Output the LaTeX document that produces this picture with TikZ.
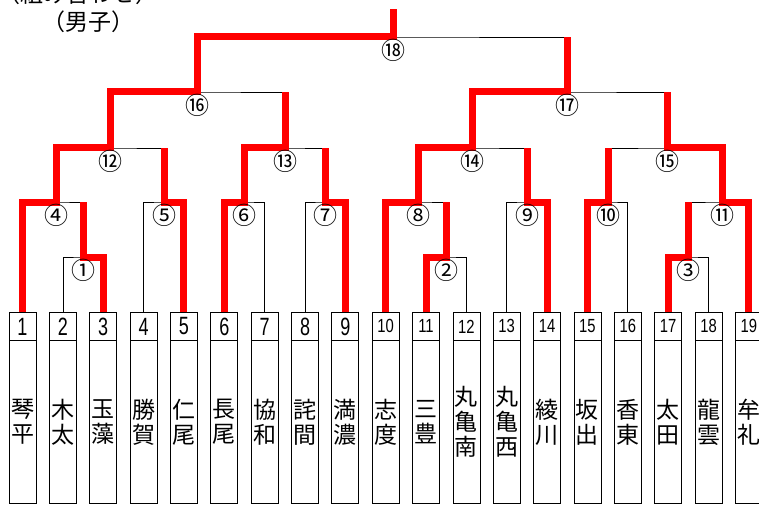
\documentclass[tikz,border=0pt]{standalone}
\usepackage{graphicx}
\usepackage{fontspec}
\setmainfont{Noto Sans CJK JP}
\newfontfamily\numfont{Liberation Sans}
\newcommand\bnum[1]{\scalebox{0.72}[1]{\fontsize{25}{25}\selectfont\numfont #1}}
\newcommand\snum[1]{\scalebox{0.78}[1]{\fontsize{19}{19}\selectfont\numfont #1}}
\tikzset{
  bk/.style={draw=black, line width=0.8pt},
  win/.style={draw=red, line width=7pt, line join=miter},
  numbox/.style={draw=black, line width=0.8pt, minimum width=27pt, minimum height=28pt, inner sep=0pt, anchor=north},
  namebox/.style={draw=black, line width=0.8pt, minimum width=27pt, minimum height=163pt, inner sep=0pt, anchor=north, align=center, font=\fontsize{23}{25}\selectfont},
  rnd/.style={inner sep=0pt, font=\fontsize{24}{24}\selectfont},
  ttl/.style={inner sep=0pt, font=\fontsize{23}{23}\selectfont},
}
\newcommand\teamnode[4]{%
  \node[numbox] (n#1) at (#2,312) {#3};
  \node[namebox] (s#1) at (#2,340) {#4};
}
\begin{document}
\begin{tikzpicture}[x=1pt,y=-1pt]
\useasboundingbox (0,0) rectangle (759,505);
% title
\node[ttl] (title1) at (78,-6) {（組み合わせ）};
\node[ttl] (title2) at (88,22) {（男子）};
% teams
\teamnode{1}{22.5}{\bnum{1}}{琴\\平}
\teamnode{2}{62.9}{\bnum{2}}{木\\太}
\teamnode{3}{103.2}{\bnum{3}}{玉\\藻}
\teamnode{4}{143.6}{\bnum{4}}{勝\\賀}
\teamnode{5}{183.9}{\bnum{5}}{仁\\尾}
\teamnode{6}{224.3}{\bnum{6}}{長\\尾}
\teamnode{7}{264.6}{\bnum{7}}{協\\和}
\teamnode{8}{305.0}{\bnum{8}}{詫\\間}
\teamnode{9}{345.3}{\bnum{9}}{満\\濃}
\teamnode{10}{385.7}{\snum{10}}{志\\度}
\teamnode{11}{426.0}{\snum{11}}{三\\豊}
\teamnode{12}{466.4}{\snum{12}}{丸\\亀\\南}
\teamnode{13}{506.7}{\snum{13}}{丸\\亀\\西}
\teamnode{14}{547.1}{\snum{14}}{綾\\川}
\teamnode{15}{587.4}{\snum{15}}{坂\\出}
\teamnode{16}{627.8}{\snum{16}}{香\\東}
\teamnode{17}{668.1}{\snum{17}}{太\\田}
\teamnode{18}{708.5}{\snum{18}}{龍\\雲}
\teamnode{19}{748.8}{\snum{19}}{牟\\礼}
% match points
\coordinate (m1) at (83,257);
\coordinate (m2) at (446,257);
\coordinate (m3) at (688,257);
\coordinate (m4) at (56,202);
\coordinate (m5) at (164,202);
\coordinate (m6) at (244,202);
\coordinate (m7) at (325,202);
\coordinate (m8) at (418,202);
\coordinate (m9) at (527,202);
\coordinate (m10) at (608,202);
\coordinate (m11) at (722,202);
\coordinate (m12) at (110,148);
\coordinate (m13) at (285,148);
\coordinate (m14) at (472,148);
\coordinate (m15) at (667,148);
\coordinate (m16) at (197,92);
\coordinate (m17) at (567,92);
\coordinate (m18) at (393,37);
\coordinate (top) at (393,9);
% black brackets
\draw[bk] (n2.north) |- (m1) -| (n3.north);
\draw[bk] (n11.north) |- (m2) -| (n12.north);
\draw[bk] (n17.north) |- (m3) -| (n18.north);
\draw[bk] (n1.north) |- (m4) -| (m1);
\draw[bk] (n4.north) |- (m5) -| (n5.north);
\draw[bk] (n6.north) |- (m6) -| (n7.north);
\draw[bk] (n8.north) |- (m7) -| (n9.north);
\draw[bk] (n10.north) |- (m8) -| (m2);
\draw[bk] (n13.north) |- (m9) -| (n14.north);
\draw[bk] (n15.north) |- (m10) -| (n16.north);
\draw[bk] (m3) |- (m11) -| (n19.north);
\draw[bk] (m4) |- (m12) -| (m5);
\draw[bk] (m6) |- (m13) -| (m7);
\draw[bk] (m8) |- (m14) -| (m9);
\draw[bk] (m10) |- (m15) -| (m11);
\draw[bk] (m12) |- (m16) -| (m13);
\draw[bk] (m14) |- (m17) -| (m15);
\draw[bk] (m16) |- (m18) -| (m17);
% winners
\draw[win] (n1.north) |- (m4) |- (m12) |- (m16) |- (m18) -- (top);
\draw[win] (n3.north) |- (m1) -- (m1 |- m4);
\draw[win] (n5.north) |- (m5) -- (m5 |- m12);
\draw[win] (n6.north) |- (m6) |- (m13) -- (m13 |- m16);
\draw[win] (n9.north) |- (m7) -- (m7 |- m13);
\draw[win] (n10.north) |- (m8) |- (m14) |- (m17) -- (m17 |- m18);
\draw[win] (n11.north) |- (m2) -- (m2 |- m8);
\draw[win] (n14.north) |- (m9) -- (m9 |- m14);
\draw[win] (n15.north) |- (m10) -- (m10 |- m15);
\draw[win] (n17.north) |- (m3) -- (m3 |- m11);
\draw[win] (n19.north) |- (m11) |- (m15) -- (m15 |- m17);
% round labels
\node[rnd] (c1) at ([yshift=-13pt]m1) {①};
\node[rnd] (c2) at ([yshift=-13pt]m2) {②};
\node[rnd] (c3) at ([yshift=-13pt]m3) {③};
\node[rnd] (c4) at ([yshift=-13pt]m4) {④};
\node[rnd] (c5) at ([yshift=-13pt]m5) {⑤};
\node[rnd] (c6) at ([yshift=-13pt]m6) {⑥};
\node[rnd] (c7) at ([yshift=-13pt]m7) {⑦};
\node[rnd] (c8) at ([yshift=-13pt]m8) {⑧};
\node[rnd] (c9) at ([yshift=-13pt]m9) {⑨};
\node[rnd] (c10) at ([yshift=-13pt]m10) {⑩};
\node[rnd] (c11) at ([yshift=-13pt]m11) {⑪};
\node[rnd] (c12) at ([yshift=-13pt]m12) {⑫};
\node[rnd] (c13) at ([yshift=-13pt]m13) {⑬};
\node[rnd] (c14) at ([yshift=-13pt]m14) {⑭};
\node[rnd] (c15) at ([yshift=-13pt]m15) {⑮};
\node[rnd] (c16) at ([yshift=-13pt]m16) {⑯};
\node[rnd] (c17) at ([yshift=-13pt]m17) {⑰};
\node[rnd] (c18) at ([yshift=-13pt]m18) {⑱};
\end{tikzpicture}
\end{document}
